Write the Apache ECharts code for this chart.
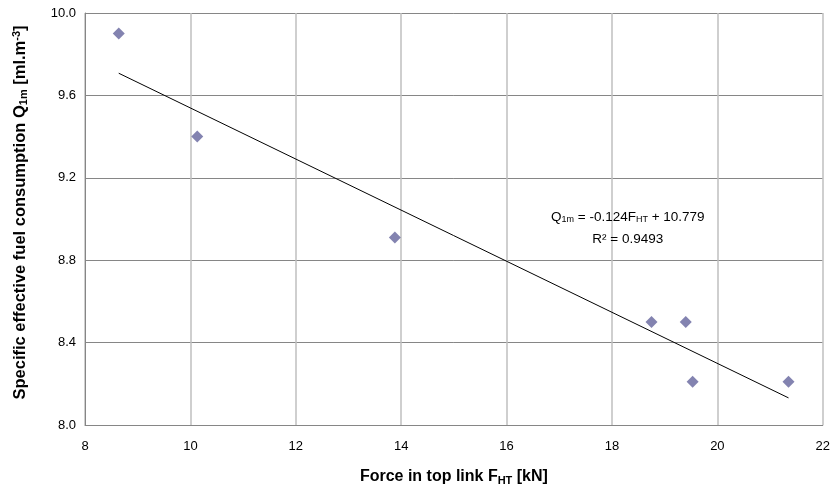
<!DOCTYPE html>
<html><head><meta charset="utf-8">
<script src="https://cdn.jsdelivr.net/npm/echarts@6/dist/echarts.min.js"></script>
<style>html,body{margin:0;padding:0;background:#fff}#c{width:833px;height:491px}</style>
</head><body><div id="c"></div>
<script>
const forceFHT = [8.64, 10.13, 13.88, 18.75, 19.40, 19.53, 21.35];
const fuelQ1m = [9.90, 9.40, 8.91, 8.50, 8.50, 8.21, 8.21];
const trendSlope = -0.124;
const trendIntercept = 10.779;
const rSquared = 0.9493;
const xTicks = [8, 10, 12, 14, 16, 18, 20, 22];
const yTicks = [8.0, 8.4, 8.8, 9.2, 9.6, 10.0];

const xMin = Math.min(...forceFHT), xMax = Math.max(...forceFHT);
const trend = [[xMin, trendSlope * xMin + trendIntercept], [xMax, trendSlope * xMax + trendIntercept]];
const FONT = 'Liberation Sans';
const chart = echarts.init(document.getElementById('c'));
chart.setOption({
  animation: false,
  grid: {left: 85, right: 7, top: 13, bottom: 66},
  xAxis: {
    type: 'value', min: xTicks[0], max: xTicks[xTicks.length-1], interval: 2,
    axisLine: {show: true, lineStyle: {color: '#868686', width: 1}},
    axisTick: {show: false},
    axisLabel: {color: '#000', fontFamily: FONT, fontSize: 13, margin: 15},
    splitLine: {show: true, lineStyle: {color: '#bfbfbf', width: 1.5}},
    name: 'Force in top link F{sub|HT} [kN]', nameLocation: 'middle', nameGap: 43,
    nameTextStyle: {fontFamily: FONT, fontSize: 16, fontWeight: 'bold', color: '#000',
      rich: {sub: {fontFamily: FONT, fontSize: 11, fontWeight: 'bold', color: '#000', padding: [7,0,0,0]}}}
  },
  yAxis: {
    type: 'value', min: yTicks[0], max: yTicks[yTicks.length-1], interval: 0.4,
    axisLine: {show: true, lineStyle: {color: '#868686', width: 1}},
    axisTick: {show: false},
    axisLabel: {color: '#000', fontFamily: FONT, fontSize: 13, margin: 9, formatter: v => v.toFixed(1)},
    splitLine: {show: true, lineStyle: {color: '#868686', width: 1}},
    name: 'Specific effective fuel consumption Q{sub|1m} [ml.m{sup|-3}]', nameLocation: 'middle', nameGap: 55,
    nameTextStyle: {fontFamily: FONT, fontSize: 16.5, fontWeight: 'bold', color: '#000', padding: [0,0,0,13],
      rich: {
        sub: {fontFamily: FONT, fontSize: 11, fontWeight: 'bold', color: '#000', padding: [7,0,0,0]},
        sup: {fontFamily: FONT, fontSize: 11, fontWeight: 'bold', color: '#000', padding: [0,0,8,0]}
      }}
  },
  series: [
    {type: 'line', data: trend, symbol: 'none', lineStyle: {color: '#000', width: 1}, silent: true, z: 2},
    {type: 'scatter', data: forceFHT.map((x, i) => [x, fuelQ1m[i]]), symbol: 'diamond', symbolSize: 12,
     itemStyle: {color: '#64649c'}, z: 3}
  ]
});
const p = chart.convertToPixel({gridIndex: 0}, [18.30, 8.955]);
chart.setOption({graphic: [{
  type: 'text', x: p[0], y: p[1],
  style: {
    text: 'Q{s|1m} = -' + Math.abs(trendSlope).toFixed(3) + 'F{s|HT} + ' + trendIntercept.toFixed(3) + '\nR² = ' + rSquared,
    align: 'center', verticalAlign: 'middle', fill: '#000', fontFamily: FONT, fontSize: 13.5, lineHeight: 22,
    rich: {s: {fontFamily: FONT, fontSize: 9, fill: '#000', padding: [5,0,0,0]}}
  }
}]});
</script></body></html>
